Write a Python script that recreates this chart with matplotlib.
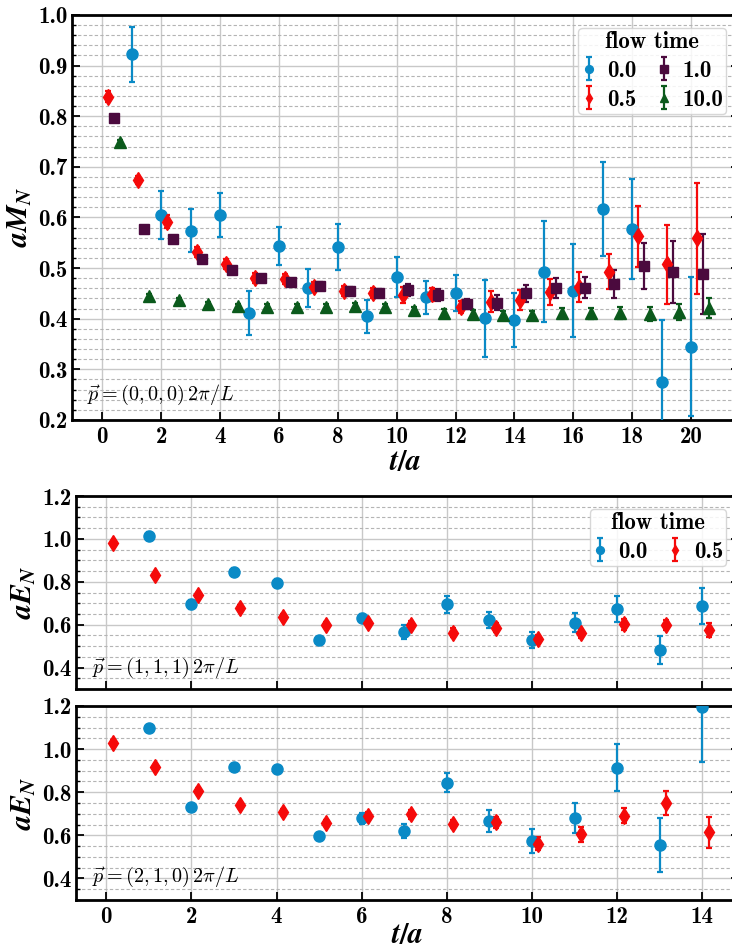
import numpy as np
import matplotlib
matplotlib.use("Agg")
import matplotlib.pyplot as plt
from matplotlib.ticker import MultipleLocator

plt.rcParams['font.family'] = ['cmb10', 'DejaVu Serif']
plt.rcParams['axes.unicode_minus'] = False
plt.rcParams['mathtext.fontset'] = 'custom'
plt.rcParams['mathtext.it'] = 'STIXGeneral:italic:bold'
plt.rcParams['mathtext.rm'] = 'STIXGeneral:bold'
plt.rcParams['mathtext.bf'] = 'STIXGeneral:bold'

# ---------------- data ----------------
flow_labels = ["0.0", "0.5", "1.0", "10.0"]

t_blue_M = list(range(1, 21))
blue_M = [0.922, 0.605, 0.574, 0.605, 0.411, 0.544, 0.461, 0.542, 0.405, 0.482,
          0.442, 0.451, 0.401, 0.398, 0.493, 0.455, 0.617, 0.577, 0.276, 0.345]
blue_M_err = [0.054, 0.048, 0.043, 0.043, 0.044, 0.037, 0.038, 0.045, 0.033, 0.040,
              0.033, 0.035, 0.076, 0.053, 0.100, 0.092, 0.093, 0.099, 0.122, 0.138]

t_M = list(range(0, 21))
red_M = [0.839, 0.674, 0.592, 0.532, 0.508, 0.480, 0.478, 0.462, 0.455, 0.450, 0.447,
         0.448, 0.423, 0.434, 0.437, 0.453, 0.463, 0.493, 0.563, 0.508, 0.559]
red_M_err = [0.010, 0.008, 0.012, 0.010, 0.010, 0.010, 0.010, 0.010, 0.010, 0.010, 0.015,
             0.013, 0.012, 0.020, 0.020, 0.026, 0.030, 0.035, 0.060, 0.078, 0.110]
sq_M = [0.797, 0.577, 0.557, 0.519, 0.496, 0.481, 0.473, 0.465, 0.455, 0.450, 0.457,
        0.447, 0.429, 0.432, 0.450, 0.461, 0.461, 0.468, 0.504, 0.492, 0.488]
sq_M_err = [0.004, 0.004, 0.004, 0.005, 0.005, 0.006, 0.006, 0.007, 0.007, 0.008, 0.012,
            0.012, 0.010, 0.015, 0.017, 0.020, 0.021, 0.028, 0.046, 0.061, 0.079]
tri_M = [0.750, 0.444, 0.437, 0.429, 0.426, 0.424, 0.424, 0.424, 0.425, 0.423, 0.417,
         0.412, 0.409, 0.407, 0.407, 0.411, 0.411, 0.411, 0.409, 0.413, 0.421]
tri_M_err = [0.003, 0.004, 0.004, 0.004, 0.004, 0.005, 0.005, 0.005, 0.006, 0.006, 0.007,
             0.007, 0.008, 0.008, 0.009, 0.010, 0.011, 0.012, 0.014, 0.016, 0.020]

t_blue_E = list(range(1, 15))
t_red_E = list(range(0, 15))
blue_E1 = [1.013, 0.695, 0.846, 0.796, 0.530, 0.631, 0.566, 0.695, 0.622, 0.527,
           0.610, 0.672, 0.482, 0.687]
blue_E1_err = [0.020, 0.020, 0.020, 0.015, 0.012, 0.020, 0.033, 0.039, 0.036, 0.037,
               0.045, 0.060, 0.064, 0.083]
red_E1 = [0.979, 0.832, 0.738, 0.680, 0.638, 0.597, 0.610, 0.597, 0.563, 0.586,
          0.532, 0.560, 0.602, 0.599, 0.575]
red_E1_err = [0.010, 0.010, 0.012, 0.012, 0.012, 0.014, 0.016, 0.020, 0.020, 0.022,
              0.022, 0.022, 0.025, 0.025, 0.033]

blue_E2 = [1.096, 0.732, 0.918, 0.907, 0.596, 0.679, 0.621, 0.844, 0.667, 0.573,
           0.681, 0.914, 0.555, 1.194]
blue_E2_err = [0.010, 0.012, 0.012, 0.013, 0.015, 0.025, 0.033, 0.045, 0.052, 0.057,
               0.071, 0.108, 0.124, 0.255]
red_E2 = [1.030, 0.915, 0.807, 0.740, 0.709, 0.658, 0.689, 0.697, 0.652, 0.661,
          0.562, 0.604, 0.692, 0.751, 0.614]
red_E2_err = [0.010, 0.010, 0.012, 0.012, 0.015, 0.015, 0.018, 0.020, 0.020, 0.025,
              0.030, 0.033, 0.037, 0.056, 0.071]

# ---------------- style ----------------
C_BLUE = "#0a8ac6"
C_RED = "#f50a0a"
C_PURP = "#4b0a3e"
C_GREEN = "#0b5a1c"
TICK_FS = 16.5
LAB_FS = 21.5
LEG_FS = 16.5
ANN_FS = 14.5

fig = plt.figure(figsize=(7.32, 9.51), dpi=100)
W, H = 732.0, 951.0

def add_ax(l, t, r, b):
    return fig.add_axes([l / W, 1 - b / H, (r - l) / W, (b - t) / H])

ax1 = add_ax(72, 15, 739, 420)
ax2 = add_ax(76, 496, 739, 689)
ax3 = add_ax(76, 706, 739, 900)

def style(ax, ymaj, ymin):
    ax.yaxis.set_major_locator(MultipleLocator(ymaj))
    ax.yaxis.set_minor_locator(MultipleLocator(ymin))
    ax.xaxis.set_major_locator(MultipleLocator(2))
    ax.grid(which='major', axis='both', color='#c8c8c8', lw=1.0, ls='-', zorder=0)
    ax.grid(which='minor', axis='y', color='#b4b4b4', lw=0.8, ls=(0, (3, 2)), zorder=0)
    ax.set_axisbelow(True)
    ax.tick_params(which='major', direction='in', length=6, width=1.3, labelsize=TICK_FS,
                   top=False, right=True)
    ax.tick_params(axis='y', which='major', pad=3)
    ax.tick_params(axis='x', which='major', pad=4)
    ax.tick_params(which='minor', direction='in', length=3, width=1.0, top=False, right=True)
    ax.tick_params(axis='x', which='minor', bottom=False)
    for s in ax.spines.values():
        s.set_linewidth(2.0)

eb = dict(ls='none', capsize=2.5, elinewidth=1.6, capthick=1.6)
leg_kw = dict(ncol=2, loc='upper right', title='flow time', fontsize=LEG_FS,
              title_fontsize=LEG_FS, handlelength=0.6, handletextpad=0.5,
              columnspacing=0.9, borderpad=0.15, labelspacing=0.3, markerscale=0.7,
              framealpha=0.85, edgecolor='#d0d0d0', fancybox=True, borderaxespad=0.55)
tt = np.array(t_M)

ax1.errorbar(np.array(t_blue_M), blue_M, yerr=blue_M_err, fmt='o', ms=8, color=C_BLUE,
             label=flow_labels[0], zorder=3, **eb)
ax1.errorbar(tt + 0.2, red_M, yerr=red_M_err, fmt='d', ms=8, color=C_RED,
             label=flow_labels[1], zorder=3, **eb)
ax1.errorbar(tt + 0.4, sq_M, yerr=sq_M_err, fmt='s', ms=7.5, color=C_PURP,
             label=flow_labels[2], zorder=3, **eb)
ax1.errorbar(tt + 0.6, tri_M, yerr=tri_M_err, fmt='^', ms=8, color=C_GREEN,
             label=flow_labels[3], zorder=3, **eb)
ax1.set_xlim(-1.03, 21.63)
ax1.set_ylim(0.2, 1.0)
style(ax1, 0.1, 0.02)
ax1.set_ylabel(r'$aM_N$', fontsize=LAB_FS, labelpad=3)
ax1.set_xlabel(r'$t/a$', fontsize=LAB_FS, labelpad=1)
ax1.text(0.0225, 0.062, r'$\vec{p}=(0,0,0)\,2\pi/L$', transform=ax1.transAxes,
         fontsize=ANN_FS, math_fontfamily='cm', va='center', ha='left')
ax1.legend(**leg_kw)

tE = np.array(t_red_E)
for ax, bv, be, rv, re_, lab, yann in [
        (ax2, blue_E1, blue_E1_err, red_E1, red_E1_err, r'$\vec{p}=(1,1,1)\,2\pi/L$', 0.11),
        (ax3, blue_E2, blue_E2_err, red_E2, red_E2_err, r'$\vec{p}=(2,1,0)\,2\pi/L$', 0.12)]:
    ax.errorbar(np.array(t_blue_E), bv, yerr=be, fmt='o', ms=8, color=C_BLUE,
                label=flow_labels[0], zorder=3, **eb)
    ax.errorbar(tE + 0.15, rv, yerr=re_, fmt='d', ms=8, color=C_RED,
                label=flow_labels[1], zorder=3, **eb)
    ax.set_xlim(-0.71, 14.86)
    ax.set_ylim(0.3, 1.2)
    style(ax, 0.2, 0.05)
    ax.set_ylabel(r'$aE_N$', fontsize=LAB_FS, labelpad=3)
    ax.text(0.024, yann, lab, transform=ax.transAxes, fontsize=ANN_FS, math_fontfamily='cm',
            va='center', ha='left')

ax2.tick_params(labelbottom=False)
ax2.legend(**leg_kw)
ax3.set_xlabel(r'$t/a$', fontsize=LAB_FS, labelpad=-4)

fig.savefig('out.png', dpi=100)
